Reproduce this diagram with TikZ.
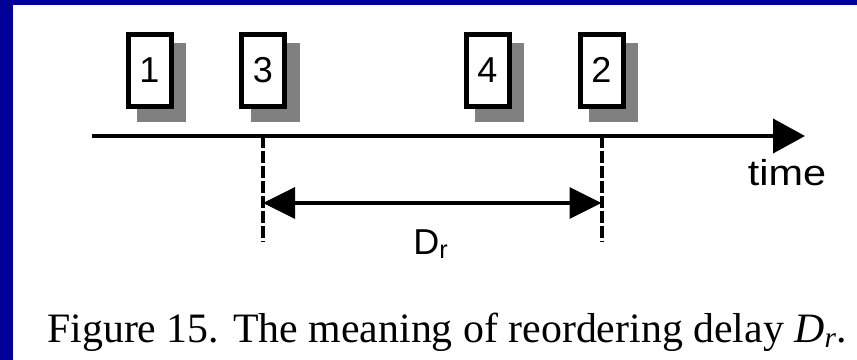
\documentclass[tikz,border=0pt]{standalone}
\usepackage{fontspec}
\setmainfont{Liberation Serif}
\setsansfont{Liberation Sans}
\usetikzlibrary{arrows.meta,calc}
\definecolor{frameblue}{HTML}{000099}
\definecolor{shadowgray}{HTML}{808080}
\begin{document}
\begin{tikzpicture}[x=0.75pt,y=-0.75pt,
  packet/.style={draw=black, line width=3.75pt, fill=white, minimum width=32.25pt,
    minimum height=54pt, inner sep=0pt, font=\sffamily\fontsize{27}{27}\selectfont},
  pshadow/.style={fill=shadowgray, minimum width=36.75pt, minimum height=59.25pt, inner sep=0pt},
  axisline/.style={line width=3pt, -{Triangle[length=24pt,width=25.5pt]}},
  marker/.style={line width=3pt, dash pattern=on 9pt off 2.25pt},
  spanline/.style={line width=3pt, {Triangle[length=24pt,width=23pt]}-{Triangle[length=24pt,width=23pt]}},
  sanslabel/.style={inner sep=0pt, font=\sffamily\fontsize{27}{27}\selectfont}
]
\useasboundingbox (0,0) rectangle (857,360);
\fill[white] (0,0) rectangle (857,360);
\fill[frameblue] (0,0) rectangle (13,360);
\fill[frameblue] (0,0) rectangle (857,5);

% shadows
\node[pshadow] (s1) at (161.5,82.5) {};
\node[pshadow] (s3) at (275,82.5) {};
\node[pshadow] (s4) at (499.5,82.5) {};
\node[pshadow] (s2) at (613,82.5) {};
% packets
\node[packet] (b1) at (149.5,70.25) {1};
\node[packet] (b3) at (263,70.25) {3};
\node[packet] (b4) at (487.5,70.25) {4};
\node[packet] (b2) at (601.5,70.25) {2};

% time axis
\coordinate (tstart) at (92,136);
\coordinate (tend) at (805,136);
\draw[axisline] (tstart) -- (tend);
\node[sanslabel, anchor=base] (timelbl) at (787,185) {\scalebox{1.15}[1]{time}};

% markers
\coordinate (m3top) at (b3 |- tstart);
\coordinate (m2top) at (b2 |- tstart);
\coordinate (m3bot) at ($(m3top)+(0,106)$);
\coordinate (m2bot) at ($(m2top)+(0,106)$);
\draw[marker] (m3top) -- (m3bot);
\draw[marker] (m2top) -- (m2bot);

% reordering delay span
\coordinate (spanl) at ($(m3top)+(0,67)$);
\coordinate (spanr) at ($(m2top)+(0,67)$);
\draw[spanline] (spanl) -- (spanr);
\node[sanslabel, anchor=base west] (drlbl) at (413,254) {D\textsubscript{r}};

% caption
\node[inner sep=0pt, anchor=base west, font=\fontsize{30.6}{30.6}\selectfont] (caption) at (47,342)
  {\resizebox{600pt}{!}{Figure 15. The meaning of reordering delay \textit{D}\textsubscript{\textit{r}}.}};
\end{tikzpicture}
\end{document}
